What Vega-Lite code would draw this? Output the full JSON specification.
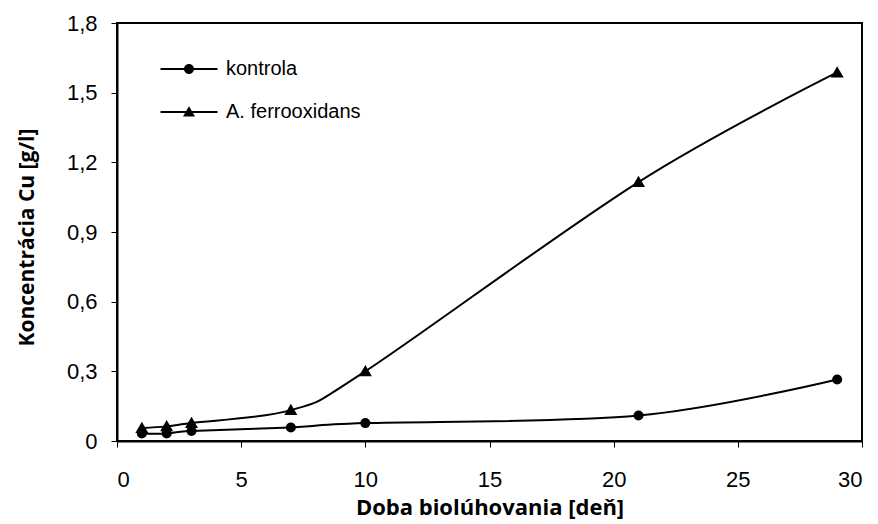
{
  "$schema": "https://vega.github.io/schema/vega-lite/v6.json",
  "width": 745,
  "height": 418,
  "autosize": {"type": "none"},
  "padding": {"left": 117, "top": 23, "right": 16, "bottom": 83},
  "background": "white",
  "config": {
    "view": {"stroke": "black", "strokeWidth": 2},
    "font": "Liberation Sans",
    "axis": {
      "grid": false,
      "domainColor": "black",
      "domainWidth": 2,
      "tickColor": "black",
      "tickWidth": 1,
      "tickSize": 6,
      "labelFont": "Liberation Sans",
      "labelFontSize": 22,
      "labelColor": "black",
      "titleColor": "black",
      "titleFontWeight": "bold",
      "titleFont": "Open Sans"
    }
  },
  "data": {
    "values": [
      {"series": "kontrola", "day": 1, "cu": 0.032},
      {"series": "kontrola", "day": 2, "cu": 0.032},
      {"series": "kontrola", "day": 3, "cu": 0.043},
      {"series": "kontrola", "day": 7, "cu": 0.058},
      {"series": "kontrola", "day": 10, "cu": 0.077},
      {"series": "kontrola", "day": 21, "cu": 0.11},
      {"series": "kontrola", "day": 29, "cu": 0.265},
      {"series": "A. ferrooxidans", "day": 1, "cu": 0.056},
      {"series": "A. ferrooxidans", "day": 2, "cu": 0.063},
      {"series": "A. ferrooxidans", "day": 3, "cu": 0.078},
      {"series": "A. ferrooxidans", "day": 7, "cu": 0.133},
      {"series": "A. ferrooxidans", "day": 10, "cu": 0.3},
      {"series": "A. ferrooxidans", "day": 21, "cu": 1.115},
      {"series": "A. ferrooxidans", "day": 29, "cu": 1.587}
    ]
  },
  "encoding": {
    "x": {
      "field": "day",
      "type": "quantitative",
      "scale": {"domain": [0, 30], "nice": false},
      "axis": {
        "values": [0, 5, 10, 15, 20, 25, 30],
        "title": "Doba biolúhovania [deň]",
        "titleFontSize": 22,
        "titlePadding": 7,
        "labelPadding": 22
      }
    },
    "y": {
      "field": "cu",
      "type": "quantitative",
      "scale": {"domain": [0, 1.8], "nice": false},
      "axis": {
        "values": [0, 0.3, 0.6, 0.9, 1.2, 1.5, 1.8],
        "labelExpr": "datum.value == 0 ? '0' : replace(format(datum.value, '.1f'), '.', ',')",
        "title": "Koncentrácia Cu [g/l]",
        "titleFontSize": 21,
        "titleX": -80,
        "titleY": 214,
        "labelPadding": 14
      }
    }
  },
  "layer": [
    {
      "mark": {"type": "line", "interpolate": "cardinal", "color": "black", "strokeWidth": 2},
      "encoding": {"detail": {"field": "series"}}
    },
    {
      "mark": {"type": "point", "filled": true, "color": "black", "opacity": 1, "size": 100},
      "encoding": {
        "shape": {
          "field": "series",
          "type": "nominal",
          "scale": {"domain": ["kontrola", "A. ferrooxidans"], "range": ["circle", "M0,-1.25L1.3,1L-1.3,1Z"]},
          "legend": null
        }
      }
    },
    {
      "mark": {"type": "point", "filled": true, "color": "black", "opacity": 0, "size": 100},
      "encoding": {
        "shape": {
          "field": "series",
          "type": "nominal",
          "scale": {
            "domain": ["kontrola", "A. ferrooxidans"],
            "range": [
              "M-5.7,-0.2L-0.9,-0.2L-0.9,0.2L-5.7,0.2ZM0.9,-0.2L5.7,-0.2L5.7,0.2L0.9,0.2ZM-1,0A1,1,0,1,1,1,0A1,1,0,1,1,-1,0Z",
              "M-5.7,-0.2L-0.6,-0.2L-0.6,0.2L-5.7,0.2ZM0.6,-0.2L5.7,-0.2L5.7,0.2L0.6,0.2ZM0,-1.15L1.2,0.9L-1.2,0.9Z"
            ]
          },
          "legend": {
            "title": null,
            "orient": "none",
            "legendX": 62,
            "legendY": 36,
            "labelFont": "Liberation Sans",
            "labelFontSize": 20,
            "labelColor": "black",
            "labelOffset": 27,
            "rowPadding": 23,
            "symbolSize": 100,
            "symbolOpacity": 1,
            "symbolStrokeWidth": 0,
            "symbolFillColor": "black"
          }
        }
      }
    }
  ],
  "resolve": {"scale": {"shape": "independent"}, "legend": {"shape": "independent"}}
}
